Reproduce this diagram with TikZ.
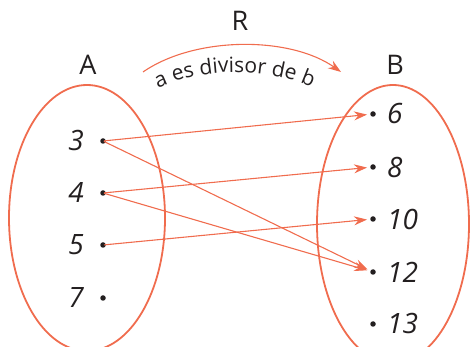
\documentclass[tikz,border=0pt]{standalone}
\usepackage{fontspec}
\setmainfont{Open Sans}
\usetikzlibrary{arrows.meta,decorations.text}
\definecolor{rel}{RGB}{240,108,78}
\definecolor{ink}{RGB}{35,31,32}
\tikzset{
  setline/.style={draw=rel, line width=1.8pt},
  maparrow/.style={draw=rel, line width=1.1pt, -{Stealth[length=13pt,width=9pt]}, shorten >=6pt, shorten <=1pt},
  elem/.style={circle, fill=ink, inner sep=0pt, minimum size=5.5pt},
  numlab/.style={inner sep=0pt, text=ink, font=\fontsize{28}{32}\selectfont\itshape},
  setlab/.style={inner sep=0pt, text=ink, font=\fontsize{27}{32}\selectfont},
}
\begin{document}
\begin{tikzpicture}[x=1pt,y=1pt]
\useasboundingbox (0,0) rectangle (470,347);
\begin{scope}
\clip (0,0) rectangle (470,347);
\draw[setline] (87,129) ellipse [x radius=78, y radius=133];
\draw[setline] (393,123) ellipse [x radius=76, y radius=139];
\end{scope}
% set labels
\node[setlab] (A) at (88,282) {A};
\node[setlab] (B) at (395,282) {B};
\node[setlab] (R) at (240,326) {R};
% left elements
\node[elem] (a3) at (103,206) {};
\node[elem] (a4) at (103,154) {};
\node[elem] (a5) at (103,102) {};
\node[elem] (a7) at (103,49) {};
\node[numlab, anchor=east] (l3) at (84,206) {3};
\node[numlab, anchor=east] (l4) at (84,154) {4};
\node[numlab, anchor=east] (l5) at (84,102) {5};
\node[numlab, anchor=east] (l7) at (84,49) {7};
% right elements
\node[elem] (b6) at (373,233) {};
\node[elem] (b8) at (373,180) {};
\node[elem] (b10) at (373,128) {};
\node[elem] (b12) at (373,75) {};
\node[elem] (b13) at (373,23) {};
\node[numlab, anchor=west] (r6) at (387,233) {6};
\node[numlab, anchor=west] (r8) at (387,180) {8};
\node[numlab, anchor=west] (r10) at (387,128) {10};
\node[numlab, anchor=west] (r12) at (387,75) {12};
\node[numlab, anchor=west] (r13) at (387,23) {13};
% mapping arrows
\draw[maparrow] (a3.center) -- (b6.center);
\draw[maparrow] (a3.center) -- (b12.center);
\draw[maparrow] (a4.center) -- (b8.center);
\draw[maparrow] (a4.center) -- (b12.center);
\draw[maparrow] (a5.center) -- (b10.center);
% relation arc
\coordinate (s) at (143,275);
\coordinate (e) at (341,275);
\draw[draw=rel, line width=1.1pt, -{Stealth[length=13pt,width=9pt]}] (s) .. controls (195,311) and (290,311) .. (e);
\path[decorate, decoration={text along path, text align=center,
   text={|\fontsize{21}{24}\selectfont\color{ink}|a es divisor de b}}]
   (146,252) .. controls (192,282) and (276,282) .. (324,253);
\end{tikzpicture}
\end{document}
